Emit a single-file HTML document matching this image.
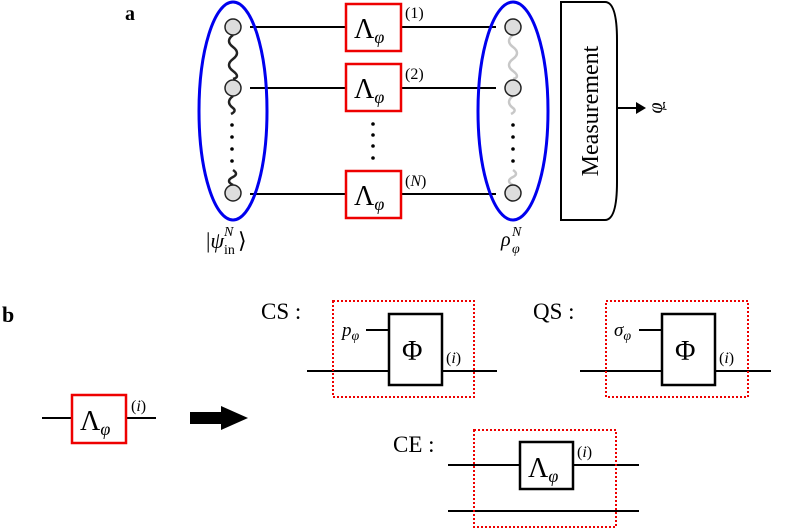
<!DOCTYPE html>
<html><head><meta charset="utf-8"><style>
html,body{margin:0;padding:0;background:#fff}
svg{display:block}
text{font-family:"Liberation Serif",serif;fill:#000}
</style></head><body>
<svg width="789" height="529" viewBox="0 0 789 529" xmlns="http://www.w3.org/2000/svg">
<text x="125" y="20" font-size="20" font-weight="bold">a</text>
<text x="2" y="322" font-size="22" font-weight="bold">b</text>
<g stroke="#000" stroke-width="2">
<line x1="250" y1="27" x2="496" y2="27"/>
<line x1="250" y1="88" x2="496" y2="88"/>
<line x1="250" y1="194" x2="496" y2="194"/>
</g>
<g fill="none" stroke="#222" stroke-width="2.5">
<path d="M233 35 q-8 6 0 12 q8 6 0 12 q-8 6 0 12 q8 6 0 8"/>
<path d="M233 96 q-8 6 0 12 q4 3 -2 6"/>
<path d="M233 185 q-8 -4 0 -8 q6 -3 0 -7"/>
</g>
<g fill="none" stroke="#c8c8c8" stroke-width="2.5">
<path d="M513 35 q-8 6 0 12 q8 6 0 12 q-8 6 0 12 q8 6 0 8"/>
<path d="M513 96 q-8 6 0 12 q4 3 -2 6"/>
<path d="M513 185 q-8 -4 0 -8 q6 -3 0 -7"/>
</g>
<g fill="#ddd" stroke="#222" stroke-width="1.5">
<circle cx="233" cy="27" r="8"/><circle cx="233" cy="88" r="8"/><circle cx="233" cy="193" r="8"/>
<circle cx="513" cy="27" r="8"/><circle cx="513" cy="88" r="8"/><circle cx="513" cy="193" r="8"/>
</g>
<g fill="#000">
<circle cx="232" cy="125" r="1.8"/><circle cx="232" cy="137" r="1.8"/><circle cx="232" cy="149" r="1.8"/><circle cx="232" cy="161" r="1.8"/>
<circle cx="513" cy="125" r="1.8"/><circle cx="513" cy="137" r="1.8"/><circle cx="513" cy="149" r="1.8"/><circle cx="513" cy="161" r="1.8"/>
<circle cx="373" cy="124" r="1.8"/><circle cx="373" cy="135" r="1.8"/><circle cx="373" cy="146" r="1.8"/><circle cx="373" cy="158" r="1.8"/>
</g>
<ellipse cx="233" cy="111" rx="34" ry="109" fill="none" stroke="#0000ee" stroke-width="3"/>
<ellipse cx="513" cy="111" rx="35" ry="109" fill="none" stroke="#0000ee" stroke-width="3"/>
<g fill="#fff" stroke="#e00" stroke-width="2.5">
<rect x="346" y="4" width="55" height="47"/>
<rect x="346" y="64" width="55" height="47"/>
<rect x="346" y="171" width="55" height="47"/>
</g>
<g font-size="28">
<text x="354" y="38">Λ<tspan font-size="18" font-style="italic" dy="5">φ</tspan></text>
<text x="354" y="98">Λ<tspan font-size="18" font-style="italic" dy="5">φ</tspan></text>
<text x="354" y="205">Λ<tspan font-size="18" font-style="italic" dy="5">φ</tspan></text>
</g>
<g font-size="16">
<text x="405" y="18">(1)</text><text x="405" y="79">(2)</text><text x="405" y="186">(<tspan font-style="italic">N</tspan>)</text>
</g>
<text x="206" y="248" font-size="22">|<tspan font-style="italic">ψ</tspan></text>
<text x="224" y="254" font-size="14">in</text>
<text x="224" y="236" font-size="14" font-style="italic">N</text>
<text x="238" y="248" font-size="22">⟩</text>
<text x="501" y="246" font-size="20" font-style="italic">ρ</text>
<text x="512" y="253" font-size="14" font-style="italic">φ</text>
<text x="512" y="236" font-size="14" font-style="italic">N</text>
<path d="M561 2 H605 Q617 2 617 40 V182 Q617 220 605 220 H561 Z" fill="#fff" stroke="#000" stroke-width="2"/>
<text transform="translate(598 111) rotate(-90)" font-size="24" text-anchor="middle">Measurement</text>
<line x1="617" y1="108" x2="638" y2="108" stroke="#000" stroke-width="2"/>
<polygon points="636,102 646,108 636,114" fill="#000"/>
<text transform="translate(662 108) rotate(-90)" font-size="20" font-style="italic" text-anchor="middle">φ</text>
<path d="M665 103 q-2 -2 -1 2 q1 4 -1 2" fill="none" stroke="#000" stroke-width="1"/>
<line x1="42" y1="418" x2="156" y2="418" stroke="#000" stroke-width="2"/>
<rect x="72" y="395" width="54" height="48" fill="#fff" stroke="#e00" stroke-width="2.5"/>
<text x="80" y="430" font-size="28">Λ<tspan font-size="18" font-style="italic" dy="5">φ</tspan></text>
<text x="131" y="411" font-size="16">(<tspan font-style="italic">i</tspan>)</text>
<polygon points="190,412 221,412 221,406 248,418 221,430 221,424 190,424" fill="#000"/>
<text x="261" y="319" font-size="23">CS :</text>
<line x1="307" y1="371" x2="497" y2="371" stroke="#000" stroke-width="2"/>
<line x1="366" y1="330" x2="389" y2="330" stroke="#000" stroke-width="2"/>
<rect x="389" y="314" width="53" height="71" fill="#fff" stroke="#000" stroke-width="2.5"/>
<text x="402" y="360" font-size="28">Φ</text>
<text x="342" y="336" font-size="19" font-style="italic">p<tspan font-size="14" dy="4">φ</tspan></text>
<text x="446" y="363" font-size="16">(<tspan font-style="italic">i</tspan>)</text>
<rect x="333" y="301" width="141" height="96" fill="none" stroke="#e00" stroke-width="2" stroke-dasharray="2,2"/>
<text x="533" y="319" font-size="23">QS :</text>
<line x1="580" y1="371" x2="771" y2="371" stroke="#000" stroke-width="2"/>
<line x1="639" y1="330" x2="662" y2="330" stroke="#000" stroke-width="2"/>
<rect x="662" y="314" width="53" height="71" fill="#fff" stroke="#000" stroke-width="2.5"/>
<text x="675" y="360" font-size="28">Φ</text>
<text x="614" y="336" font-size="19" font-style="italic">σ<tspan font-size="14" dy="4">φ</tspan></text>
<text x="719" y="363" font-size="16">(<tspan font-style="italic">i</tspan>)</text>
<rect x="606" y="301" width="142" height="96" fill="none" stroke="#e00" stroke-width="2" stroke-dasharray="2,2"/>
<text x="393" y="452" font-size="23">CE :</text>
<line x1="448" y1="465" x2="639" y2="465" stroke="#000" stroke-width="2"/>
<line x1="448" y1="511" x2="639" y2="511" stroke="#000" stroke-width="2"/>
<rect x="520" y="442" width="53" height="47" fill="#fff" stroke="#000" stroke-width="2.5"/>
<text x="528" y="477" font-size="28">Λ<tspan font-size="18" font-style="italic" dy="5">φ</tspan></text>
<text x="577" y="457" font-size="16">(<tspan font-style="italic">i</tspan>)</text>
<rect x="474" y="430" width="142" height="97" fill="none" stroke="#e00" stroke-width="2" stroke-dasharray="2,2"/>
</svg>
</body></html>
